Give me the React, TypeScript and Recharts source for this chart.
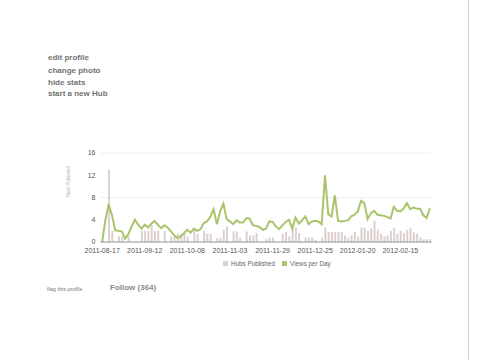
import React from 'react';
import { ComposedChart, Bar, Line, XAxis, YAxis, CartesianGrid, Legend } from 'recharts';

// one point every two days, starting 2011-08-17
const START = Date.UTC(2011, 7, 17);

const viewsPerDay = [
  0, 4, 6.8, 4.8, 2.1, 2.0, 1.9, 0.6, 1.4, 2.8,
  4.0, 3.1, 2.4, 3.1, 2.6, 3.3, 3.8, 3.1, 2.5, 3.0,
  2.6, 1.9, 1.2, 0.7, 1.0, 1.6, 2.2, 1.7, 2.4, 2.0,
  2.3, 3.4, 3.7, 4.5, 5.9, 3.2, 5.5, 6.9, 4.1, 3.7,
  3.2, 3.9, 3.5, 3.5, 4.3, 4.2, 3.0, 2.9, 2.7, 2.2,
  2.4, 3.7, 3.6, 2.8, 2.3, 3.0, 3.6, 4.0, 2.4, 4.4,
  3.3, 3.9, 4.6, 3.2, 3.7, 3.8, 3.7, 3.2, 12.0, 5.0,
  4.6, 8.4, 3.8, 3.7, 3.8, 3.9, 4.6, 4.9, 5.5, 7.4,
  7.0, 4.1, 5.2, 5.6, 4.9, 4.8, 4.7, 4.5, 4.2, 6.3,
  5.6, 5.5, 6.0, 7.0, 5.9, 6.2, 6.0, 6.0, 4.8, 4.3,
  6.1,
];

const hubsPublished = [
  0, 0, 13, 2, 0, 1, 1, 0, 1, 0,
  0, 0, 2, 2, 2, 3, 2, 2, 0, 2,
  0, 1, 1, 1.5, 1.5, 2, 1, 0, 2.5, 1.5,
  0, 2, 1.5, 1.5, 0, 0.7, 0.7, 2.2, 2.8, 0,
  1.9, 1.9, 0.8, 0, 1.9, 1.2, 1.2, 1.6, 0, 0,
  0.5, 0.8, 0.8, 0, 0, 1.5, 1.8, 1.0, 2.6, 2.6,
  1.6, 0, 0.8, 0.8, 0.8, 0.4, 0, 0.8, 2.6, 1.8,
  1.8, 1.8, 1.8, 1.8, 1.2, 0.8, 1.2, 1.8, 1.0, 2.6,
  2.6, 2.0, 2.5, 3.8, 2.2, 1.5, 1.0, 1.2, 2.0, 2.6,
  1.5, 2.0, 1.6, 2.2, 2.6, 1.7, 1.5, 0.8, 0.5, 0.5,
  0.5,
];

const yTicks = [0, 4, 8, 12, 16];

const dates = viewsPerDay.map((_, i) =>
  new Date(START + i * 2 * 86400000).toISOString().slice(0, 10)
);

const data = dates.map((date, i) => ({
  date,
  hubs: hubsPublished[i],
  views: viewsPerDay[i],
}));

const FONT = '"Liberation Sans", Arial, sans-serif';

const linkStyle: React.CSSProperties = {
  position: 'absolute',
  left: 48,
  fontSize: 8,
  lineHeight: '10px',
  fontWeight: 'bold',
  color: '#727272',
  fontFamily: FONT,
};

function LegendContent({ payload }: any) {
  return (
    <div style={{ display: 'flex', justifyContent: 'flex-start', height: 12, alignItems: 'center', paddingLeft: 223 }}>
      {(payload || []).map((p: any) => (
        <div key={p.value} style={{ display: 'flex', alignItems: 'center', marginRight: 7 }}>
          <span style={{ width: 5, height: 5, background: p.color, display: 'inline-block', marginRight: 3 }} />
          <span style={{ fontSize: 6.3, color: '#666', fontFamily: FONT }}>{p.value}</span>
        </div>
      ))}
    </div>
  );
}

export default function App() {
  return (
    <div style={{ position: 'absolute', left: 0, top: 0, width: 496, height: 360, background: '#fff', overflow: 'hidden' }}>
      <div style={{ ...linkStyle, top: 53 }}>edit profile</div>
      <div style={{ ...linkStyle, top: 65.5 }}>change photo</div>
      <div style={{ ...linkStyle, top: 77.5 }}>hide stats</div>
      <div style={{ ...linkStyle, top: 89.3 }}>start a new Hub</div>

      <div style={{ position: 'absolute', left: 0, top: 140 }}>
        <ComposedChart
          width={460}
          height={140}
          data={data}
          margin={{ top: 13, right: 28.5, left: 60.5, bottom: 8 }}
          style={{ fontFamily: FONT }}
        >
          <CartesianGrid vertical={false} stroke="#efefef" />
          <XAxis
            dataKey="date"
            interval={12}
            height={18}
            tickSize={4}
            tickLine={false}
            axisLine={{ stroke: '#999' }}
            tick={{ fontSize: 7, fill: '#555' }}
          />
          <YAxis
            domain={[0, 16]}
            ticks={yTicks}
            width={40}
            tickSize={3}
            tickLine={false}
            axisLine={false}
            tick={{ fontSize: 7, fill: '#555' }}
            label={{ value: 'Hubs Published', angle: -90, position: 'insideLeft', offset: 8, style: { fontSize: 4.5, fill: '#b5b5b5', fontStyle: 'italic' } }}
          />
          <Legend content={<LegendContent />} wrapperStyle={{ top: 117, left: 0, width: 460 }} />
          <Bar dataKey="hubs" name="Hubs Published" fill="#ddcfcf" barSize={2} isAnimationActive={false} />
          <Line
            dataKey="views"
            name="Views per Day"
            type="linear"
            stroke="#a9c56c"
            strokeWidth={2}
            dot={false}
            isAnimationActive={false}
          />
        </ComposedChart>
      </div>

      <div style={{ position: 'absolute', left: 47, top: 284.3, fontSize: 5.5, lineHeight: '10px', color: '#777', fontFamily: FONT }}>
        flag this profile
      </div>
      <div style={{ position: 'absolute', left: 110, top: 283, fontSize: 8, lineHeight: '10px', fontWeight: 'bold', color: '#8a8a8a', fontFamily: FONT }}>
        Follow (364)
      </div>
      <div style={{ position: 'absolute', left: 468, top: 0, width: 1, height: 360, background: '#d0d0d0' }} />
    </div>
  );
}
